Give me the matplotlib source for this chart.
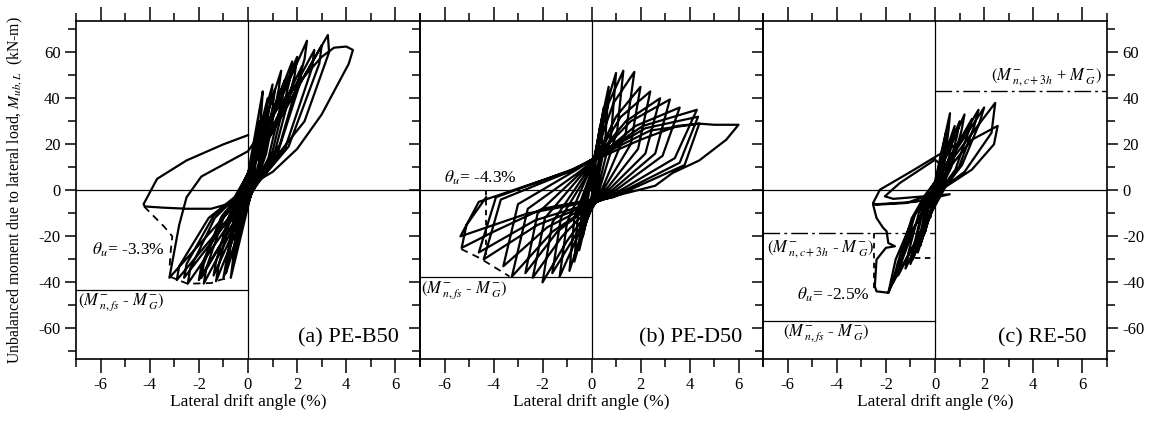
import matplotlib
matplotlib.use("Agg")
import matplotlib.pyplot as plt
from matplotlib.ticker import MultipleLocator

plt.rcParams['font.family'] = ['Liberation Serif', 'DejaVu Serif']
plt.rcParams['mathtext.fontset'] = 'stix'
plt.rcParams['axes.unicode_minus'] = False

# ---------------- data (drift %, moment kN-m) ----------------
loop_a = [
    (0, 0),
    (0.15, 10), (0.12, 6), (0.08, 3), (0.05, 1), (-0.1, -8), (-0.08, -5), (-0.05, -2), (-0.03, -1),
    (0.3, 20), (0.27, 15), (0.17, 6), (0.1, 2), (-0.25, -15), (-0.22, -11), (-0.14, -4), (-0.1, -1),
    (0.45, 30), (0.4, 23), (0.25, 9), (0.15, 3), (-0.4, -22), (-0.36, -17), (-0.22, -6), (-0.15, -2),
    (0.6, 43), (0.55, 35), (0.33, 13), (0.2, 4), (-0.6, -30), (-0.55, -24), (-0.33, -9), (-0.2, -3),
    (0.8, 40), (0.72, 32), (0.44, 12), (0.25, 4), (-0.7, -38), (-0.62, -31), (-0.39, -11), (-0.25, -3),
    (1.0, 46), (0.9, 38), (0.55, 14), (0.3, 4), (-0.9, -36), (-0.8, -30), (-0.5, -11), (-0.3, -3),
    (1.1, 44), (1.0, 36), (0.6, 13), (0.3, 4), (-1.0, -38), (-0.9, -32), (-0.55, -11), (-0.3, -3),
    (1.35, 52), (1.25, 44), (0.74, 16), (0.35, 4), (-1.3, -39.5), (-1.2, -33), (-0.72, -12), (-0.35, -3),
    (1.5, 48), (1.4, 40), (0.83, 14), (0.35, 4), (-1.4, -37), (-1.3, -31), (-0.77, -11), (-0.35, -3),
    (1.8, 56), (1.7, 48), (1.0, 17), (0.4, 4), (-1.8, -40.5), (-1.7, -34), (-1.0, -12), (-0.4, -3),
    (2.0, 58), (1.9, 50), (1.1, 17), (0.4, 4), (-1.9, -38), (-1.8, -32), (-1.05, -11), (-0.4, -3),
    (2.2, 54), (2.1, 46), (1.2, 16), (0.45, 4), (-2.0, -39), (-1.9, -33), (-1.1, -12), (-0.45, -3),
    (2.4, 65), (2.3, 57), (1.3, 20), (0.5, 5), (-2.45, -40.5), (-2.35, -34), (-1.35, -12), (-0.5, -3),
    (2.7, 61), (2.6, 53), (1.5, 18), (0.5, 5), (-2.6, -38), (-2.5, -32), (-1.4, -11), (-0.5, -3),
    (3.0, 63), (2.9, 55), (1.65, 19), (0.55, 5), (-2.9, -39), (-2.8, -33), (-1.6, -12), (-0.55, -3),
    (3.25, 67.5), (3.3, 60), (2.3, 30), (0.5, 6), (-3.2, -38), (-2.8, -15),
    (-2.5, -3), (-1.9, 6), (0, 17),
    (1.5, 40), (3.0, 58), (3.5, 62), (4.0, 62.5), (4.27, 61), (4.1, 55),
    (3.0, 33), (2.0, 18), (1.0, 8), (0.2, 3), (-0.5, -5), (-1.5, -8),
    (-2.5, -8), (-3.5, -7.5), (-4.2, -7), (-4.25, -6), (-3.7, 5),
    (-2.5, 13), (-1.0, 20), (0, 24),
]

loop_b = [
    (0, 0),
    (0.1, 10), (0.2, 18), (0.15, 8), (0.0, -3), (-0.1, -7), (-0.2, -12), (-0.15, -4), (0.0, 6),
    (0.2, 18), (0.35, 28), (0.28, 12), (0.0, -4), (-0.18, -12), (-0.35, -20), (-0.28, -7), (0.0, 7),
    (0.3, 24), (0.5, 36), (0.4, 16), (0.05, -4), (-0.25, -15), (-0.5, -26), (-0.4, -9), (0.0, 8),
    (0.4, 30), (0.7, 45), (0.55, 20), (0.1, -4), (-0.35, -18), (-0.7, -31), (-0.55, -10), (0.0, 8),
    (0.55, 35), (1.0, 51), (0.8, 24), (0.15, -4), (-0.45, -20), (-0.9, -35), (-0.7, -12), (0.0, 8),
    (0.7, 38), (1.3, 52), (1.05, 26), (0.2, -4), (-0.65, -22), (-1.3, -37.5), (-1.0, -14), (-0.1, 8),
    (0.9, 38), (1.75, 51.5), (1.4, 25), (0.25, -4), (-0.8, -22), (-1.6, -36), (-1.25, -12), (-0.1, 8),
    (1.0, 32), (2.0, 45), (1.6, 20), (0.3, -3), (-1.0, -22), (-2.0, -40), (-1.6, -14), (-0.2, 8),
    (1.2, 32), (2.4, 43), (1.9, 18), (0.35, -3), (-1.2, -20), (-2.4, -38), (-1.9, -12), (-0.3, 8),
    (1.4, 30), (2.8, 40), (2.2, 16), (0.4, -3), (-1.4, -18), (-2.7, -36), (-2.2, -10), (-0.4, 8),
    (1.6, 30), (3.2, 39.5), (2.6, 16), (0.5, -3), (-1.6, -18), (-3.25, -37.5), (-2.6, -8), (-0.5, 8),
    (1.8, 28), (3.6, 36), (2.9, 15), (0.6, -3), (-1.8, -16), (-3.6, -33), (-3.0, -6), (-0.6, 9),
    (2.1, 28), (4.3, 35), (3.4, 14), (0.7, -3), (-2.2, -15), (-4.4, -30), (-3.7, -4), (-0.7, 9),
    (2.2, 27), (4.35, 32), (3.6, 12), (0.8, -3), (-2.3, -13), (-4.6, -27), (-3.9, -3), (-0.8, 9),
    (2.4, 26), (4.4, 29), (3.8, 11), (0.9, -3), (-2.6, -10), (-5.35, -20), (-4.6, -5), (-1.0, 8),
    (2.0, 22), (3.5, 28), (4.4, 29), (5.0, 28.5), (6.0, 28.5), (5.5, 22), (4.4, 13),
    (3.3, 7.5), (2.6, 2), (0.9, -2.6), (0, -4), (-2.0, -8), (-4.0, -18), (-5.3, -25),
    (-5.1, -15), (-4.3, -3),
]

loop_c = [
    (0, 0),
    (0.15, 10), (0.12, 6), (0.06, 2), (-0.1, -7), (-0.08, -4), (-0.04, -1),
    (0.3, 18), (0.27, 13), (0.15, 5), (0.08, 1), (-0.2, -12), (-0.18, -9), (-0.1, -3), (-0.05, -1),
    (0.45, 25), (0.4, 19), (0.25, 7), (0.12, 2), (-0.4, -18), (-0.36, -14), (-0.22, -5), (-0.1, -1),
    (0.61, 33.5), (0.55, 26), (0.34, 9), (0.15, 2), (-0.6, -24), (-0.54, -19), (-0.33, -7), (-0.15, -2),
    (0.8, 28), (0.72, 22), (0.44, 8), (0.2, 2), (-0.7, -27), (-0.63, -21), (-0.39, -8), (-0.18, -2),
    (1.0, 30), (0.9, 24), (0.55, 9), (0.25, 2), (-0.9, -30), (-0.81, -24), (-0.5, -9), (-0.22, -2),
    (1.2, 33), (1.08, 26), (0.66, 10), (0.3, 2), (-1.0, -32), (-0.9, -26), (-0.55, -10), (-0.25, -2),
    (1.5, 31), (1.35, 25), (0.83, 9), (0.35, 2), (-1.2, -34), (-1.08, -27), (-0.66, -10), (-0.3, -2),
    (1.77, 35), (1.6, 28), (0.97, 10), (0.4, 2), (-1.5, -37), (-1.35, -30), (-0.83, -11), (-0.35, -2),
    (2.0, 36), (1.8, 29), (1.1, 11), (0.45, 2), (-1.7, -40), (-1.53, -32), (-0.94, -12), (-0.4, -2),
    (2.45, 38), (2.3, 25), (1.2, 8), (0.3, 1), (-1.0, -18), (-1.9, -44.5),
    (-1.6, -30), (-0.8, -10), (0, 2), (1.5, 22), (2.55, 28), (2.4, 20),
    (1.5, 9), (0.5, 2), (-0.5, -3), (-1.16, -5.5), (-2.0, -6), (-2.38, -6.2),
    (-2.52, -5.5), (-2.24, 0.3), (-1.0, 8), (0.27, 16.2), (0.9, 20), (0.5, 9),
    (0, 13.3), (-1.43, 3.2), (-2.04, -2.6), (-1.7, -3.7), (0.6, -1.7),
    (-0.8, -5), (-2.3, -6), (-2.52, -6.2), (-2.38, -12), (-2.11, -16.3),
    (-1.97, -17.8), (-1.9, -22.9), (-1.63, -24.3), (-2.0, -25), (-2.38, -30.1),
    (-2.45, -41.7), (-2.38, -43.9), (-1.9, -44.5), (-1.5, -35), (-0.8, -15), (0, 0),
]

# dashed envelopes / limits
env_a = [(-4.23, -7), (-3.42, -15.7), (-3.08, -20), (-3.14, -25.8), (-3.2, -34.5)]
env_a_bot = [(-3.2, -37.4), (-2.46, -40.6), (-1.5, -40.3), (-1.1, -38.8), (-0.7, -38)]
env_b = [(-5.32, -25.5), (-4.57, -29.4), (-3.35, -37.4)]
theta_u = [-3.3, -4.3, -2.5]
mn_fs_minus = [-43.5, -37.5, -57.0]
mn_c3h_minus = -18.5
mn_c3h_plus = 43.0
c_res = -29.5

panel_titles = ['(a) PE-B50', '(b) PE-D50', '(c) RE-50']
x_major = [-6, -4, -2, 0, 2, 4, 6]
y_major = [-60, -40, -20, 0, 20, 40, 60]

# ---------------- figure ----------------
W, H = 1151, 421
fig = plt.figure(figsize=(W / 100, H / 100), dpi=100)
bottom = 62 / H
height = 338 / H
lefts = [76, 420, 763]
widths = [344, 343, 344]
axes = [fig.add_axes([l / W, bottom, w / W, height]) for l, w in zip(lefts, widths)]

loops = [loop_a, loop_b, loop_c]
LW = 1.6
for i, ax in enumerate(axes):
    ax.set_xlim(-7, 7)
    ax.set_ylim(-73.3, 73.6)
    ax.axhline(0, color='k', lw=0.9, zorder=1)
    ax.axvline(0, color='k', lw=0.9, zorder=1)
    xs = [p[0] for p in loops[i]]
    ys = [p[1] for p in loops[i]]
    ax.plot(xs, ys, color='k', lw=LW, solid_joinstyle='round', zorder=3)
    ax.xaxis.set_minor_locator(MultipleLocator(1))
    ax.yaxis.set_minor_locator(MultipleLocator(10))
    ax.set_xticks(x_major)
    ax.set_yticks(y_major)
    ax.tick_params(axis='x', which='both', direction='out', top=True, bottom=True,
                   labelsize=12, pad=3, width=1.1)
    ax.tick_params(axis='x', which='major', length=10)
    ax.tick_params(axis='x', which='minor', length=6)
    ax.tick_params(axis='y', which='both', direction='out', left=True, right=(i == 2),
                   labelleft=(i == 0), labelright=(i == 2), labelsize=12, width=1.1, pad=3)
    ax.tick_params(axis='y', which='major', length=8)
    ax.tick_params(axis='y', which='minor', length=6)
    for s in ax.spines.values():
        s.set_linewidth(1.2)
    ax.set_xlabel('Lateral drift angle (%)', fontsize=12.5, labelpad=1)
    ax.text(6.15, -64, panel_titles[i], fontsize=16, ha='right', va='center')
    ax.plot([-7, 0], [mn_fs_minus[i]] * 2, color='k', lw=0.9)
    ax.set_facecolor('none')

# panel a
ax = axes[0]
ax.plot([p[0] for p in env_a], [p[1] for p in env_a], 'k--', lw=1.3, dashes=(4, 3))
ax.plot([p[0] for p in env_a_bot], [p[1] for p in env_a_bot], 'k--', lw=1.3, dashes=(4, 3))
ax.text(-6.9, -48.5, r'$(M^{-}_{\;n,fs}$ - $M^{-}_{\;G})$', fontsize=12, ha='left', va='center')
ax.text(-3.4, -26, r'$\theta_u$= -3.3%', fontsize=12.5, ha='right', va='center')

# panel b
ax = axes[1]
ax.plot([theta_u[1], theta_u[1]], [0, -28], 'k--', lw=1.3, dashes=(3, 2.5))
ax.plot([p[0] for p in env_b], [p[1] for p in env_b], 'k--', lw=1.3, dashes=(4, 3))
ax.text(-6.95, -43.5, r'$(M^{-}_{\;n,fs}$ - $M^{-}_{\;G})$', fontsize=12, ha='left', va='center')
ax.text(-6.0, 5.5, r'$\theta_u$= -4.3%', fontsize=12.5, ha='left', va='center')

# panel c
ax = axes[2]
ax.plot([0, 7], [mn_c3h_plus] * 2, color='k', lw=1.0, dashes=(12, 3, 2, 3))
ax.plot([-7, 0], [mn_c3h_minus] * 2, color='k', lw=1.0, dashes=(12, 3, 2, 3))
ax.plot([theta_u[2], theta_u[2]], [mn_c3h_minus, -44], 'k--', lw=1.3, dashes=(3, 2.5))
ax.plot([-0.8, 0], [c_res, c_res], 'k--', lw=1.3, dashes=(3, 2.5))
ax.text(6.8, 49, r'$(M^{-}_{\;n,c+3h}$ + $M^{-}_{\;G})$', fontsize=12, ha='right', va='center')
ax.text(-6.85, -26, r'$(M^{-}_{\;n,c+3h}$ - $M^{-}_{\;G})$', fontsize=12, ha='left', va='center')
ax.text(-6.2, -62, r'$(M^{-}_{\;n,fs}$ - $M^{-}_{\;G})$', fontsize=12, ha='left', va='center')
ax.text(-2.65, -45.5, r'$\theta_u$= -2.5%', fontsize=12.5, ha='right', va='center')

fig.text(15 / W, 1 - 190 / H, r'Unbalanced moment due to lateral load, $M_{ub,L}$  (kN-m)',
         rotation=90, ha='center', va='center', fontsize=11.3)

fig.savefig('out.png', dpi=100, facecolor='white')
